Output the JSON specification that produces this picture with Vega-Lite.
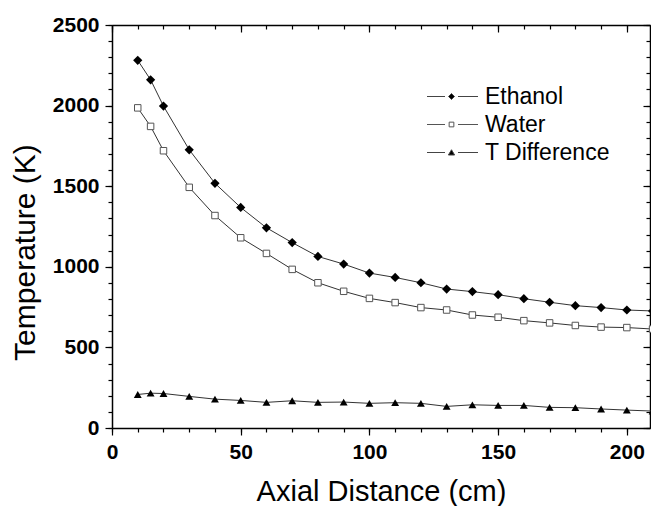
{
  "$schema": "https://vega.github.io/schema/vega-lite/v6.json",
  "width": 538,
  "height": 403,
  "autosize": {"type": "none"},
  "padding": {"left": 112, "top": 25, "right": 1, "bottom": 78},
  "background": "white",
  "config": {
    "view": {"stroke": null},
    "axis": {
      "domainColor": "black",
      "domainWidth": 1.5,
      "tickColor": "black",
      "tickWidth": 1.2,
      "grid": false,
      "format": "d",
      "labelFont": "Liberation Sans",
      "labelFontWeight": "bold",
      "labelFontSize": 21,
      "labelColor": "black",
      "labelFlush": false,
      "labelOverlap": false,
      "labelBound": false,
      "titleFont": "Liberation Sans",
      "titleFontWeight": "normal",
      "titleFontSize": 29,
      "titleColor": "black"
    }
  },
  "data": {
    "values": [
      {"x": 10, "series": "Ethanol", "T": 2281},
      {"x": 15, "series": "Ethanol", "T": 2160},
      {"x": 20, "series": "Ethanol", "T": 1997},
      {"x": 30, "series": "Ethanol", "T": 1726},
      {"x": 40, "series": "Ethanol", "T": 1518},
      {"x": 50, "series": "Ethanol", "T": 1368},
      {"x": 60, "series": "Ethanol", "T": 1242},
      {"x": 70, "series": "Ethanol", "T": 1150},
      {"x": 80, "series": "Ethanol", "T": 1064},
      {"x": 90, "series": "Ethanol", "T": 1017},
      {"x": 100, "series": "Ethanol", "T": 961},
      {"x": 110, "series": "Ethanol", "T": 934},
      {"x": 120, "series": "Ethanol", "T": 901},
      {"x": 130, "series": "Ethanol", "T": 862},
      {"x": 140, "series": "Ethanol", "T": 846},
      {"x": 150, "series": "Ethanol", "T": 827},
      {"x": 160, "series": "Ethanol", "T": 802},
      {"x": 170, "series": "Ethanol", "T": 780},
      {"x": 180, "series": "Ethanol", "T": 759},
      {"x": 190, "series": "Ethanol", "T": 747},
      {"x": 200, "series": "Ethanol", "T": 732},
      {"x": 210, "series": "Ethanol", "T": 726},
      {"x": 10, "series": "Water", "T": 1986},
      {"x": 15, "series": "Water", "T": 1871},
      {"x": 20, "series": "Water", "T": 1720},
      {"x": 30, "series": "Water", "T": 1493},
      {"x": 40, "series": "Water", "T": 1318},
      {"x": 50, "series": "Water", "T": 1180},
      {"x": 60, "series": "Water", "T": 1083},
      {"x": 70, "series": "Water", "T": 984},
      {"x": 80, "series": "Water", "T": 901},
      {"x": 90, "series": "Water", "T": 848},
      {"x": 100, "series": "Water", "T": 804},
      {"x": 110, "series": "Water", "T": 778},
      {"x": 120, "series": "Water", "T": 747},
      {"x": 130, "series": "Water", "T": 732},
      {"x": 140, "series": "Water", "T": 701},
      {"x": 150, "series": "Water", "T": 687},
      {"x": 160, "series": "Water", "T": 666},
      {"x": 170, "series": "Water", "T": 652},
      {"x": 180, "series": "Water", "T": 636},
      {"x": 190, "series": "Water", "T": 626},
      {"x": 200, "series": "Water", "T": 623},
      {"x": 210, "series": "Water", "T": 614},
      {"x": 10, "series": "T Difference", "T": 208},
      {"x": 15, "series": "T Difference", "T": 216},
      {"x": 20, "series": "T Difference", "T": 214},
      {"x": 30, "series": "T Difference", "T": 196},
      {"x": 40, "series": "T Difference", "T": 179},
      {"x": 50, "series": "T Difference", "T": 171},
      {"x": 60, "series": "T Difference", "T": 159},
      {"x": 70, "series": "T Difference", "T": 169},
      {"x": 80, "series": "T Difference", "T": 159},
      {"x": 90, "series": "T Difference", "T": 161},
      {"x": 100, "series": "T Difference", "T": 153},
      {"x": 110, "series": "T Difference", "T": 157},
      {"x": 120, "series": "T Difference", "T": 153},
      {"x": 130, "series": "T Difference", "T": 134},
      {"x": 140, "series": "T Difference", "T": 144},
      {"x": 150, "series": "T Difference", "T": 140},
      {"x": 160, "series": "T Difference", "T": 140},
      {"x": 170, "series": "T Difference", "T": 128},
      {"x": 180, "series": "T Difference", "T": 126},
      {"x": 190, "series": "T Difference", "T": 118},
      {"x": 200, "series": "T Difference", "T": 111},
      {"x": 210, "series": "T Difference", "T": 105}
    ]
  },
  "layer": [
    {
      "mark": {"type": "line", "color": "#333333", "strokeWidth": 1},
      "encoding": {
        "x": {"field": "x", "type": "quantitative", "scale": {"domain": [0, 209], "nice": false, "zero": false},
              "axis": {"orient": "bottom", "values": [0, 50, 100, 150, 200], "tickSize": 7, "labelPadding": 6.5, "title": "Axial Distance (cm)", "titleBaseline": "alphabetic", "titleY": 72}},
        "y": {"field": "T", "type": "quantitative", "scale": {"domain": [0, 2500], "nice": false},
              "axis": {"orient": "left", "values": [0, 500, 1000, 1500, 2000, 2500], "tickSize": 7, "labelPadding": 6, "title": "Temperature (K)", "titleBaseline": "alphabetic", "titleX": -78, "titleY": 227, "titleFontSize": 30}},
        "detail": {"field": "series", "type": "nominal"}
      }
    },
    {
      "transform": [{"filter": "datum.series === 'Ethanol'"}],
      "mark": {"type": "point", "shape": "diamond", "filled": true, "color": "black", "size": 85, "opacity": 1},
      "encoding": {
        "x": {"field": "x", "type": "quantitative",
              "axis": {"orient": "bottom", "values": [0,10,20,30,40,50,60,70,80,90,100,110,120,130,140,150,160,170,180,190,200], "tickSize": 4, "labels": false, "domain": false, "title": null}},
        "y": {"field": "T", "type": "quantitative",
              "axis": {"orient": "left", "values": [0,100,200,300,400,500,600,700,800,900,1000,1100,1200,1300,1400,1500,1600,1700,1800,1900,2000,2100,2200,2300,2400,2500], "tickSize": 4, "labels": false, "domain": false, "title": null}}
      }
    },
    {
      "transform": [{"filter": "datum.series === 'Water'"}],
      "mark": {"type": "point", "shape": "square", "filled": true, "fill": "white", "stroke": "#555555", "strokeWidth": 1, "size": 42, "opacity": 1},
      "encoding": {
        "x": {"field": "x", "type": "quantitative", "axis": null},
        "y": {"field": "T", "type": "quantitative", "axis": null}
      }
    },
    {
      "transform": [{"filter": "datum.series === 'T Difference'"}],
      "mark": {"type": "point", "shape": "triangle-up", "filled": true, "color": "black", "size": 62, "opacity": 1},
      "encoding": {
        "x": {"field": "x", "type": "quantitative", "axis": null},
        "y": {"field": "T", "type": "quantitative", "axis": null}
      }
    },
    {
      "transform": [{"filter": "datum.x < 0"}],
      "mark": {"type": "point", "strokeWidth": 1, "opacity": 1},
      "encoding": {
        "x": {"field": "x", "type": "quantitative",
              "axis": {"orient": "top", "values": [0, 50, 100, 150, 200], "tickSize": -7, "labels": false, "title": null}},
        "y": {"field": "T", "type": "quantitative",
              "axis": {"orient": "right", "values": [0, 500, 1000, 1500, 2000, 2500], "tickSize": -7, "labels": false, "title": null}},
        "fill": {"field": "series", "type": "nominal", "scale": {"domain": ["Ethanol", "Water", "T Difference"], "range": ["black", "white", "black"]}},
        "stroke": {"field": "series", "type": "nominal", "scale": {"domain": ["Ethanol", "Water", "T Difference"], "range": ["#444444", "#555555", "#444444"]}},
        "shape": {"field": "series", "type": "nominal",
                  "scale": {"domain": ["Ethanol", "Water", "T Difference"],
                            "range": ["M-4.9,0H-1.3M1.3,0H5.3M0,-0.6L0.6,0L0,0.6L-0.6,0Z", "M-4.9,0H-1.3M1.3,0H5.3M-0.47,-0.47H0.47V0.47H-0.47Z", "M-4.9,0H-1.3M1.3,0H5.3M0,-0.55L0.62,0.5H-0.62Z"]},
                  "legend": {
                    "title": null, "orient": "none", "legendX": 328, "legendY": 60, "padding": 0,
                    "symbolSize": 100, "symbolStrokeWidth": 1, "symbolOpacity": 1,
                    "labelOffset": 22, "rowPadding": 4,
                    "labelFont": "Liberation Sans", "labelFontSize": 23, "labelColor": "black"
                  }}
      }
    },
    {
      "mark": {"type": "point", "opacity": 0},
      "encoding": {
        "x": {"field": "x", "type": "quantitative",
              "axis": {"orient": "top", "values": [0,10,20,30,40,50,60,70,80,90,100,110,120,130,140,150,160,170,180,190,200], "tickSize": -4, "labels": false, "domain": false, "title": null}},
        "y": {"field": "T", "type": "quantitative",
              "axis": {"orient": "right", "values": [0,100,200,300,400,500,600,700,800,900,1000,1100,1200,1300,1400,1500,1600,1700,1800,1900,2000,2100,2200,2300,2400,2500], "tickSize": -4, "labels": false, "domain": false, "title": null}}
      }
    }
  ],
  "resolve": {"axis": {"x": "independent", "y": "independent"}}
}
